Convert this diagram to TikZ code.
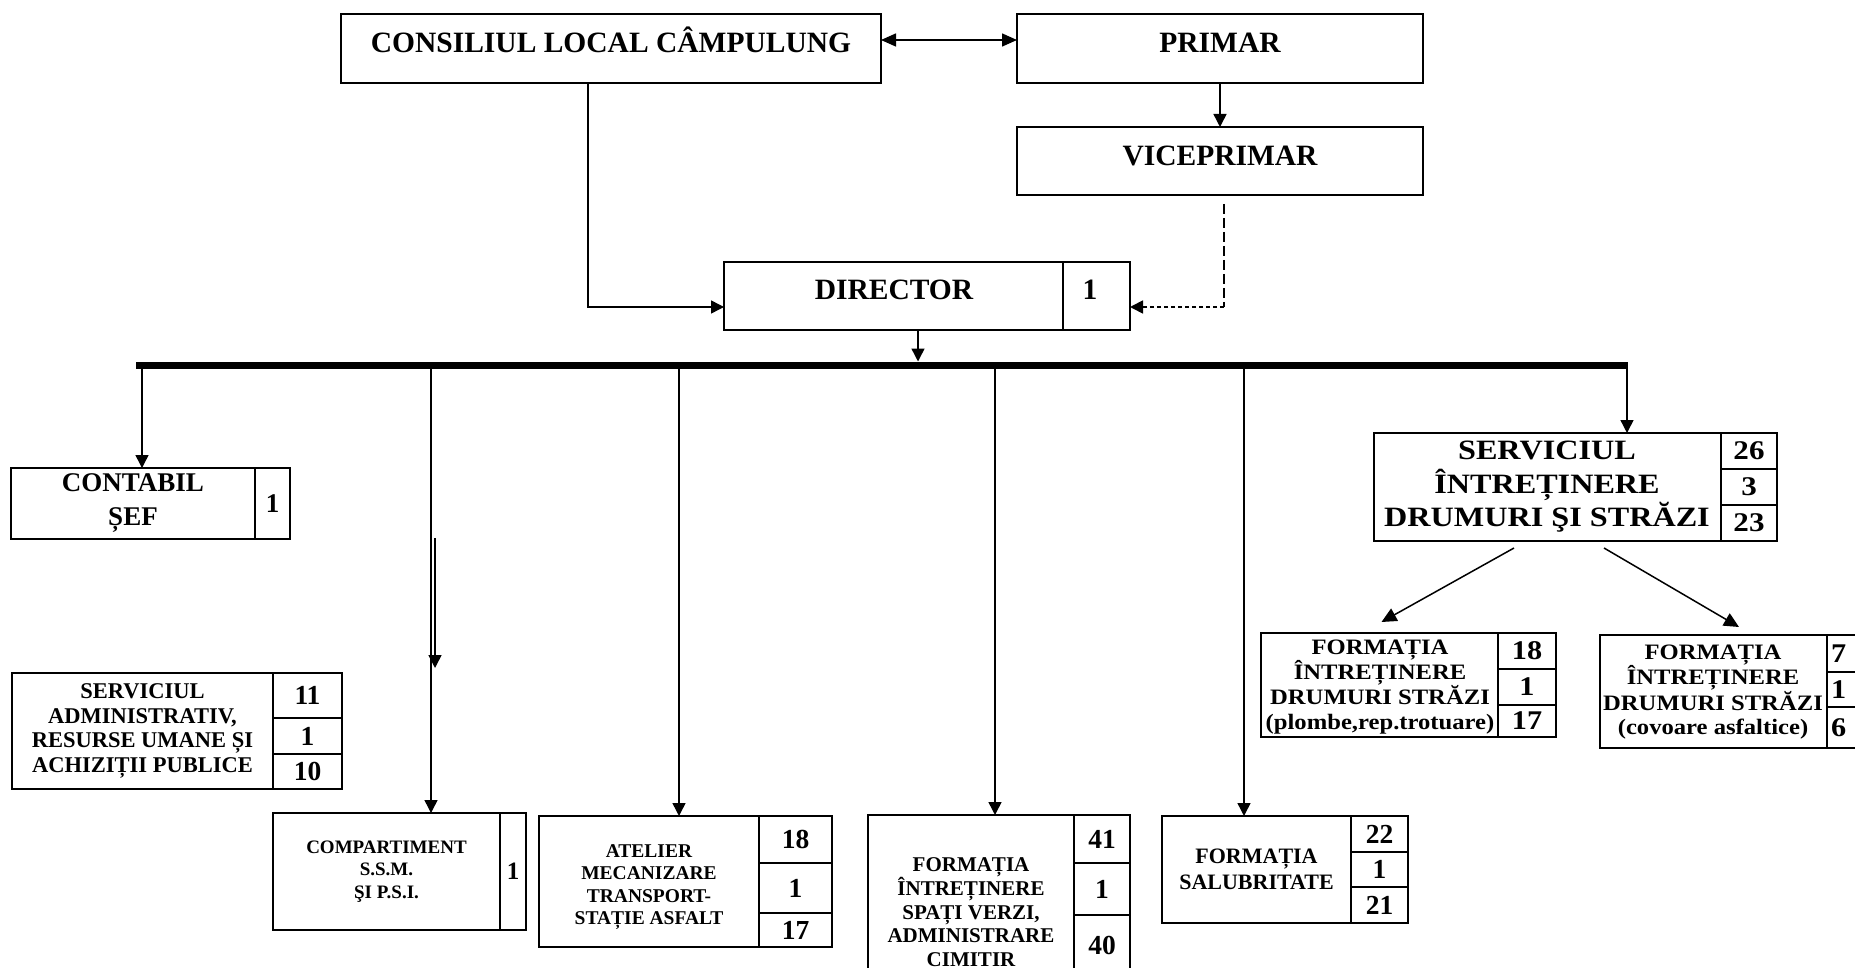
\documentclass[tikz,border=0pt]{standalone}
\usepackage{fontspec}
\setmainfont{Liberation Serif}
\newfontfamily\wideserif[FakeStretch=1.15]{Liberation Serif}
\newfontfamily\midserif[FakeStretch=1.12]{Liberation Serif}
\usetikzlibrary{arrows.meta,calc}
\newcommand{\myfs}[2]{\bfseries\fontsize{#1}{#2}\selectfont}
\newcommand{\wfs}[2]{\wideserif\bfseries\fontsize{#1}{#2}\selectfont}
\newcommand{\mfs}[2]{\midserif\bfseries\fontsize{#1}{#2}\selectfont}
\tikzset{
  cell/.style={draw, line width=1.8pt, inner sep=0pt, outer sep=0pt, anchor=north west, align=center},
  topcell/.style={cell, line width=1.6pt},
  lab/.style={inner sep=0pt, outer sep=0pt, align=center},
  conn/.style={line width=1.5pt, -{Triangle[length=13pt,width=13pt]}},
  numcell/.style={cell, font=\myfs{27.5}{30}},
  mnumcell/.style={cell, font=\mfs{27}{30}},
}
\begin{document}
\begin{tikzpicture}[x=1pt,y=-1pt]
\useasboundingbox (0,0) rectangle (1855,968);
\fill[white] (0,0) rectangle (1855,968);
\clip (0,0) rectangle (1855,968);

% top level
\node[topcell, minimum width=540pt, minimum height=69pt] (cons) at (341,14) {};
\node[lab, font=\myfs{29.5}{34}] (constxt) at (611,40) {CONSILIUL LOCAL CÂMPULUNG};
\node[topcell, minimum width=406pt, minimum height=69pt] (prim) at (1017,14) {};
\node[lab, font=\myfs{29.5}{34}] (primtxt) at (1220,43) {PRIMAR};
\node[topcell, minimum width=406pt, minimum height=68pt] (vice) at (1017,127) {};
\node[lab, font=\myfs{29.5}{34}] (vicetxt) at (1220,156) {VICEPRIMAR};
\node[topcell, minimum width=339pt, minimum height=68pt] (dir) at (724,262) {};
\node[topcell, minimum width=67pt, minimum height=68pt] (dirn) at (1063,262) {};
\node[lab, font=\myfs{29.5}{34}] (dirtxt) at (894,290) {DIRECTOR};
\node[lab, font=\myfs{29.5}{34}] (dirnum) at (1090,290) {1};

\path (cons.north east) ++(0,26) coordinate (c1);
\draw[line width=1.5pt, {Triangle[length=15pt,width=13pt]}-{Triangle[length=15pt,width=13pt]}] (c1) -- (c1 -| prim.west);
\draw[conn] (prim.south) -- (vice.north);

\coordinate (c2) at ($(cons.south west)+(247,0)$);
\coordinate (dl) at ($(dir.south west)+(0,-23)$);
\draw[conn] (c2) |- (dl);

\coordinate (v1) at ($(vice.south)+(4,9)$);
\coordinate (dr) at ($(dirn.south east)+(0,-23)$);
\draw[line width=1.3pt, dash pattern=on 10pt off 4pt] (v1) -- (v1 |- dr);
\draw[line width=1.8pt, dash pattern=on 4pt off 3pt, -{Triangle[length=13pt,width=13pt]}] (v1 |- dr) -- (dr);

% bus
\coordinate (busL) at (136,365);
\coordinate (busR) at (1628,365);
\draw[line width=7pt] (busL) -- (busR);
\coordinate (dd) at ($(dir.south west)+(194,0)$);
\draw[conn, shorten >=3.5pt] (dd) -- (dd |- busL);

% boxes
\node[cell, minimum width=244pt, minimum height=71pt, font=\myfs{27}{34}] (contab) at (11,468) {CONTABIL\\ȘEF};
\node[cell, minimum width=35pt, minimum height=71pt, font=\myfs{27}{34}] (contabn) at (255,468) {1};

\node[cell, minimum width=261pt, minimum height=116pt, font=\myfs{22.5}{24.7}] (adm) at (12,673) {SERVICIUL\\ADMINISTRATIV,\\RESURSE UMANE ȘI\\ACHIZIȚII PUBLICE};
\node[numcell, minimum width=69pt, minimum height=45pt] (adm1) at (273,673) {11};
\node[numcell, minimum width=69pt, minimum height=36pt] (adm2) at (273,718) {1};
\node[numcell, minimum width=69pt, minimum height=35pt] (adm3) at (273,754) {10};

\node[cell, minimum width=227pt, minimum height=117pt, font=\myfs{19}{22.5}] (comp) at (273,813) {COMPARTIMENT\\S.S.M.\\ŞI P.S.I.};
\node[cell, minimum width=26pt, minimum height=117pt, font=\myfs{25}{28}] (compn) at (500,813) {1};

\node[cell, minimum width=220pt, minimum height=131pt] (atel) at (539,816) {};
\node[lab, font=\myfs{19.5}{22.5}] (ateltxt) at (649,887) {ATELIER\\MECANIZARE\\TRANSPORT-\\STAȚIE ASFALT};
\node[numcell, minimum width=73pt, minimum height=47pt] (atel1) at (759,816) {18};
\node[numcell, minimum width=73pt, minimum height=50pt] (atel2) at (759,863) {1};
\node[numcell, minimum width=73pt, minimum height=34pt] (atel3) at (759,913) {17};

\node[cell, minimum width=206pt, minimum height=170pt] (verz) at (868,815) {};
\node[lab, font=\myfs{21}{23.5}] (verztxt) at (971,912) {FORMAȚIA\\ÎNTREȚINERE\\SPAȚI VERZI,\\ADMINISTRARE\\CIMITIR};
\node[numcell, minimum width=56pt, minimum height=48pt] (verz1) at (1074,815) {41};
\node[numcell, minimum width=56pt, minimum height=52pt] (verz2) at (1074,863) {1};
\node[numcell, minimum width=56pt, minimum height=60pt] (verz3) at (1074,915) {40};

\node[cell, minimum width=189pt, minimum height=107pt, font=\myfs{22}{26}] (salub) at (1162,816) {FORMAȚIA\\SALUBRITATE};
\node[numcell, minimum width=57pt, minimum height=36pt] (salub1) at (1351,816) {22};
\node[numcell, minimum width=57pt, minimum height=35pt] (salub2) at (1351,852) {1};
\node[numcell, minimum width=57pt, minimum height=36pt] (salub3) at (1351,887) {21};

\node[cell, minimum width=347pt, minimum height=108pt] (serv) at (1374,433) {};
\node[lab, font=\wfs{28}{33.5}] (servtxt) at (1547,487) {SERVICIUL\\ÎNTREȚINERE\\DRUMURI ŞI STRĂZI};
\node[cell, minimum width=56pt, minimum height=36pt, font=\wfs{27}{30}] (serv1) at (1721,433) {26};
\node[cell, minimum width=56pt, minimum height=36pt, font=\wfs{27}{30}] (serv2) at (1721,469) {3};
\node[cell, minimum width=56pt, minimum height=36pt, font=\wfs{27}{30}] (serv3) at (1721,505) {23};

\node[cell, minimum width=237pt, minimum height=104pt] (plom) at (1261,633) {};
\node[lab, font=\mfs{22}{25}] (plomtxt) at (1380,687) {FORMAȚIA\\ÎNTREȚINERE\\DRUMURI STRĂZI\\(plombe,rep.trotuare)};
\node[mnumcell, minimum width=58pt, minimum height=36pt] (plom1) at (1498,633) {18};
\node[mnumcell, minimum width=58pt, minimum height=36pt] (plom2) at (1498,669) {1};
\node[mnumcell, minimum width=58pt, minimum height=32pt] (plom3) at (1498,705) {17};

\node[cell, minimum width=227pt, minimum height=113pt] (cov) at (1600,635) {};
\node[lab, font=\mfs{22}{24}] (covtxt) at (1713,692) {FORMAȚIA\\ÎNTREȚINERE\\DRUMURI STRĂZI\\(covoare asfaltice)};
\node[cell, minimum width=60pt, minimum height=37pt] (cov1) at (1827,635) {};
\node[cell, minimum width=60pt, minimum height=35pt] (cov2) at (1827,672) {};
\node[cell, minimum width=60pt, minimum height=41pt] (cov3) at (1827,707) {};
\node[lab, anchor=west, font=\mfs{27}{30}] (cov1t) at ($(cov1.west)+(4,0)$) {7};
\node[lab, anchor=west, font=\mfs{27}{30}] (cov2t) at ($(cov2.west)+(4,0)$) {1};
\node[lab, anchor=west, font=\mfs{27}{30}] (cov3t) at ($(cov3.west)+(4,0)$) {6};

% drops from bus
\coordinate (b1) at (142,365);
\coordinate (b2) at (431,365);
\coordinate (b3) at (679,365);
\coordinate (b4) at (995,365);
\coordinate (b5) at (1244,365);
\coordinate (b6) at (1627,365);
\draw[conn] (b1) -- (b1 |- contab.north);
\draw[conn] (b2) -- (b2 |- comp.north);
\draw[conn] (b3) -- (b3 |- atel.north);
\draw[conn] (b4) -- (b4 |- verz.north);
\draw[conn] (b5) -- (b5 |- salub.north);
\draw[conn] (b6) -- (b6 |- serv.north);
\coordinate (x1) at ($(b2)+(4,173)$);
\coordinate (x2) at ($(b2)+(4,303)$);
\draw[conn] (x1) -- (x2);

% diagonal arrows
\coordinate (sa) at ($(serv.south west)+(140,7)$);
\coordinate (sb) at ($(serv.south west)+(230,7)$);
\coordinate (pa) at ($(plom.north)+(2,-11)$);
\coordinate (pb) at ($(cov.north east)+(-88,-8)$);
\draw[conn, -{Triangle[length=15pt,width=14pt]}] (sa) -- (pa);
\draw[conn, -{Triangle[length=15pt,width=14pt]}] (sb) -- (pb);
\end{tikzpicture}
\end{document}
